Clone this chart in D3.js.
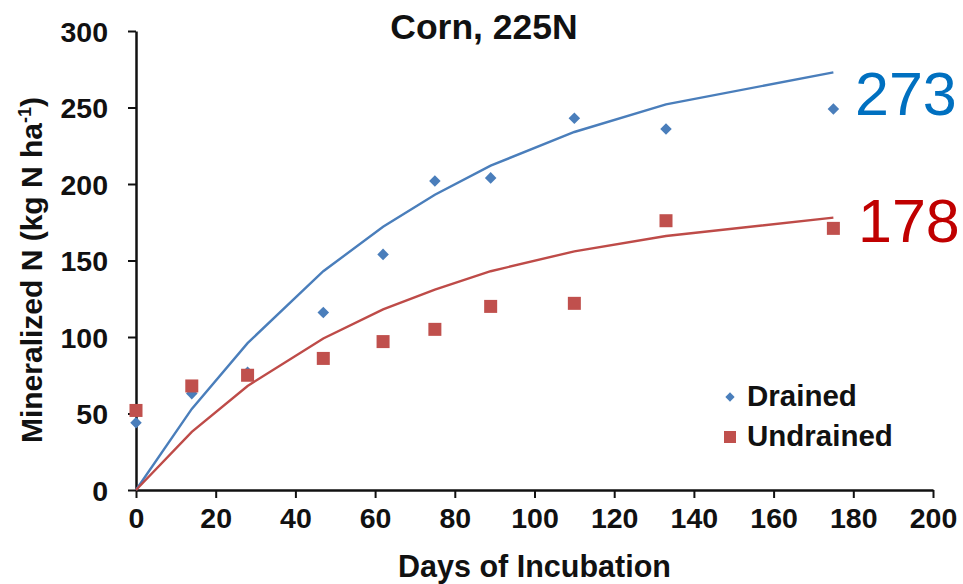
<!DOCTYPE html>
<html>
<head>
<meta charset="utf-8">
<script src="https://cdn.jsdelivr.net/npm/d3@7"></script>
<style>
  body { margin: 0; background: #fff; }
  text { font-family: Arial, "Liberation Sans", sans-serif; }
</style>
</head>
<body>
<svg id="chart"></svg>
<script>
// sampling days
const days = [0, 14, 28, 47, 62, 75, 89, 110, 133, 175];
// measured values (kg N/ha)
const drained = [44, 63, 77, 116, 154, 202, 204, 243, 236, 249];
const undrained = [52, 68, 75, 86, 97, 105, 120, 122, 176, 171];
// fitted curve values
const drainedFit = [0, 53, 96, 143, 172, 193, 212, 234, 252, 273];
const undrainedFit = [0, 38, 68, 99, 118, 131, 143, 156, 166, 178];
const xTicks = [0, 20, 40, 60, 80, 100, 120, 140, 160, 180, 200];
const yTicks = [0, 50, 100, 150, 200, 250, 300];
const seriesNames = ["Drained", "Undrained"];
const endLabels = ["273", "178"];

const width = 963, height = 584;
const margin = { left: 136, right: 30, top: 31, bottom: 94 };

const svg = d3.select("#chart").attr("width", width).attr("height", height);

const x = d3.scaleLinear().domain([0, 200]).range([margin.left, width - margin.right]);
const y = d3.scaleLinear().domain([0, 300]).range([height - margin.bottom, margin.top]);

const blue = "#4a7ebb", red = "#be4b48";

// axes
const xAxis = svg.append("g")
  .attr("transform", `translate(0,${y(0)})`)
  .call(d3.axisBottom(x).tickValues(xTicks).tickSize(8).tickPadding(10).tickSizeOuter(0));
const yAxis = svg.append("g")
  .attr("transform", `translate(${x(0)},0)`)
  .call(d3.axisLeft(y).tickValues(yTicks).tickSize(8).tickPadding(20).tickSizeOuter(0));

[xAxis, yAxis].forEach(a => {
  a.select(".domain").attr("stroke", "#111").attr("stroke-width", 2.5);
  a.selectAll(".tick line").attr("stroke", "#111").attr("stroke-width", 2);
  a.selectAll(".tick text")
    .attr("fill", "#111")
    .attr("font-size", 28.5)
    .attr("font-weight", "bold");
});
yAxis.selectAll(".tick text").attr("dy", "0.36em");

// fitted lines
const line = d3.line().x((d, i) => x(days[i])).y(d => y(d));
svg.append("path").datum(drainedFit)
  .attr("d", line).attr("fill", "none").attr("stroke", blue).attr("stroke-width", 2.4);
svg.append("path").datum(undrainedFit)
  .attr("d", line).attr("fill", "none").attr("stroke", red).attr("stroke-width", 2.4);

// markers
const diamond = d3.symbol().type(d3.symbolDiamond2).size(85);
svg.append("g").selectAll("path").data(drained).join("path")
  .attr("d", diamond)
  .attr("transform", (d, i) => `translate(${x(days[i])},${y(d)})`)
  .attr("fill", blue);

svg.append("g").selectAll("rect").data(undrained).join("rect")
  .attr("x", (d, i) => x(days[i]) - 6.5)
  .attr("y", d => y(d) - 6.5)
  .attr("width", 13).attr("height", 13)
  .attr("fill", "#c0504d");

// title
svg.append("text")
  .attr("x", 484).attr("y", 39)
  .attr("text-anchor", "middle")
  .attr("font-size", 35.5).attr("font-weight", "bold").attr("fill", "#111")
  .text("Corn, 225N");

// axis titles
svg.append("text")
  .attr("x", (x(0) + x(200)) / 2).attr("y", 577)
  .attr("text-anchor", "middle")
  .attr("font-size", 30.5).attr("font-weight", "bold").attr("fill", "#111")
  .text("Days of Incubation");

const yl = svg.append("text")
  .attr("transform", "translate(42,270) rotate(-90)")
  .attr("text-anchor", "middle")
  .attr("font-size", 30).attr("font-weight", "bold").attr("fill", "#111");
yl.append("tspan").text("Mineralized N (kg N ha");
yl.append("tspan").attr("font-size", 18).attr("dy", -11).text("-1");
yl.append("tspan").attr("dy", 11).text(")");

// end labels
svg.append("text").attr("x", 855).attr("y", 115)
  .attr("font-size", 61).attr("fill", "#0070c0").text(endLabels[0]);
svg.append("text").attr("x", 858).attr("y", 242)
  .attr("font-size", 61).attr("fill", "#c00000").text(endLabels[1]);

// legend
const legend = svg.append("g").attr("transform", "translate(730,397)");
legend.append("path")
  .attr("d", d3.symbol().type(d3.symbolDiamond2).size(55))
  .attr("fill", blue);
legend.append("rect")
  .attr("x", -6).attr("y", 34).attr("width", 12).attr("height", 12)
  .attr("fill", "#c0504d");
legend.selectAll("text").data(seriesNames).join("text")
  .attr("x", 17).attr("y", (d, i) => 9 + i * 40)
  .attr("font-size", 29.5).attr("font-weight", "bold").attr("fill", "#111")
  .text(d => d);
</script>
</body>
</html>
